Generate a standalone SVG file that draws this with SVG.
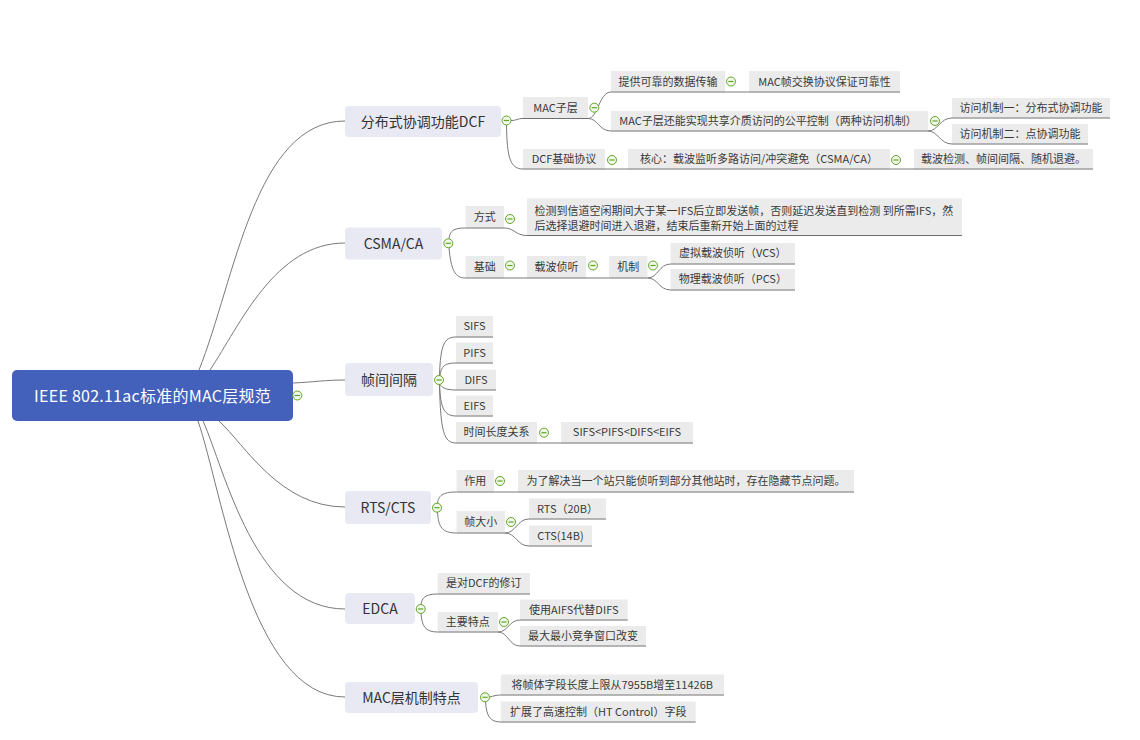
<svg xmlns="http://www.w3.org/2000/svg" xmlns:xlink="http://www.w3.org/1999/xlink" width="1140" height="740" viewBox="0 0 1140 740">
<style>
text{font-family:"Microsoft YaHei","Noto Sans CJK SC","Noto Sans",sans-serif;}
.root rect{fill:#4361BA;}
.root text{fill:#ffffff;font-size:16px;letter-spacing:0.25px;text-anchor:middle;}
.l1 rect{fill:#E8E9F3;}
.l1 text{fill:#333333;font-size:14px;text-anchor:middle;}
.l2 rect{fill:#EBEBEB;}
.l2 text{fill:#3a3a3a;font-size:11px;text-anchor:middle;}
.l2 text.left{text-anchor:start;}
.ul{stroke:#6e6e6e;stroke-width:1;fill:none;}
.cn path,.cn line{stroke:#7a7a7a;stroke-width:1;fill:none;}
.tg circle{fill:#F2F9EA;stroke:#5FA526;stroke-width:1;}
.tg line{stroke:#5FA526;stroke-width:1.2;}
</style>
<defs>
<g id="tg" class="tg"><circle cx="0" cy="0" r="4.5"/><line x1="-2.6" y1="0" x2="2.6" y2="0"/></g>
</defs>
<rect width="1140" height="740" fill="#ffffff"/>

<g id="connectors" class="cn">
<path d="M199,370 C235,280 255,121 345,121"/>
<path d="M210,370 C240,325 275,243 345,243"/>
<path d="M293,383 C315,382 325,380 345,380"/>
<path d="M219,421 C245,445 280,507 345,507"/>
<path d="M203,421 C225,470 255,609 345,609"/>
<path d="M198,421 C222,490 250,697 345,697"/>

<path d="M511,120.5 C517,120.5 517,118.5 523,118.5"/>
<path d="M506.5,125 C507,157 510,169 523,169"/>
<path d="M449,238.8 C450,231 453,228 465.5,228"/>
<path d="M449,247.8 C451,270 455,278 465.5,278"/>
<path d="M439.5,375.5 C440.5,345 444,337 456,337"/>
<path d="M440,375.7 C441,366 445,363 456,363"/>
<path d="M440,384.3 C441,387 445,390 456,390"/>
<path d="M439.5,384.5 C440.5,408 444,416 456,416"/>
<path d="M439.5,384.5 C440.5,432 444,443 456,443"/>
<path d="M437.5,503.2 C438.5,496 442,492 456.5,492"/>
<path d="M437.5,512.2 C438.5,527 442,533 456.5,533"/>
<path d="M421,604.5 C422,598 425,594 437.7,594"/>
<path d="M421,613.5 C422,626 425,632 437.7,632"/>
<path d="M489.5,697 C494,696 496,695 500.7,695"/>
<path d="M485.5,701.8 C486.5,716 490,722 500.7,722"/>

<path d="M588,118.5 C598,118.5 599,92 611,92"/>
<path d="M588,118.5 C598,118.5 599,131 611,131"/>
<path d="M928,131 C938,131 940,118 952,118"/>
<path d="M928,131 C938,131 940,144 952,144"/>
<path d="M504,228 C515,228 515,235.5 527,235.5"/>
<path d="M647.5,278 C658,278 659,264 670.6,264"/>
<path d="M647.5,278 C658,278 659,290 670.6,290"/>
<path d="M505,533 C516,533 517,519 529,519"/>
<path d="M505,533 C516,533 517,546 529,546"/>
<path d="M498,632 C508,632 509,620 520,620"/>
<path d="M498,632 C508,632 509,646 520,646"/>

<line x1="725" y1="92" x2="749" y2="92"/>
<line x1="605" y1="169" x2="628" y2="169"/>
<line x1="890" y1="169" x2="914" y2="169"/>
<line x1="504" y1="278" x2="527" y2="278"/>
<line x1="586" y1="278" x2="609" y2="278"/>
<line x1="537" y1="443" x2="561" y2="443"/>
<line x1="494" y1="492" x2="518" y2="492"/>
</g>

<g id="root" class="root">
<rect x="12" y="370" width="281" height="51" rx="5"/>
<text x="152.5" y="401.5">IEEE 802.11ac标准的MAC层规范</text>
<use xlink:href="#tg" x="297.3" y="395.5"/>
</g>

<g id="n-dcf" class="l1">
<rect x="345" y="106" width="156" height="31" rx="4"/>
<text x="423" y="126.5">分布式协调功能DCF</text>
<use xlink:href="#tg" x="506.5" y="120.5"/>
</g>
<g id="n-csma" class="l1">
<rect x="345" y="227.5" width="97" height="32" rx="4"/>
<text x="393.5" y="248.5">CSMA/CA</text>
<use xlink:href="#tg" x="448.3" y="243.3"/>
</g>
<g id="n-ifs" class="l1">
<rect x="345" y="363" width="88" height="33" rx="4"/>
<text x="389" y="384.5">帧间间隔</text>
<use xlink:href="#tg" x="439" y="380"/>
</g>
<g id="n-rts" class="l1">
<rect x="345" y="491" width="86" height="33" rx="4"/>
<text x="388" y="512.5">RTS/CTS</text>
<use xlink:href="#tg" x="437" y="507.7"/>
</g>
<g id="n-edca" class="l1">
<rect x="345" y="593" width="70" height="31" rx="4"/>
<text x="380" y="613.5">EDCA</text>
<use xlink:href="#tg" x="420.7" y="609"/>
</g>
<g id="n-mac" class="l1">
<rect x="345" y="682" width="133" height="31" rx="4"/>
<text x="411.5" y="702.5">MAC层机制特点</text>
<use xlink:href="#tg" x="485" y="697.3"/>
</g>

<g id="n-macsub" class="l2">
<rect x="523" y="97" width="65" height="21"/>
<line class="ul" x1="523" y1="118.5" x2="588" y2="118.5"/>
<text x="555.5" y="111.5">MAC子层</text>
<use xlink:href="#tg" x="594.3" y="107.7"/>
</g>
<g id="n-reliable" class="l2">
<rect x="611" y="71" width="114" height="20.5"/>
<line class="ul" x1="611" y1="92" x2="725" y2="92"/>
<text x="668" y="85.5">提供可靠的数据传输</text>
<use xlink:href="#tg" x="731" y="81.5"/>
</g>
<g id="n-macframe" class="l2">
<rect x="749" y="71" width="151" height="20.5"/>
<line class="ul" x1="749" y1="92" x2="900" y2="92"/>
<text x="824.5" y="85.5">MAC帧交换协议保证可靠性</text>
</g>
<g id="n-fair" class="l2">
<rect x="611" y="111" width="317" height="19.5"/>
<line class="ul" x1="611" y1="131" x2="928" y2="131"/>
<text x="768" y="124.8">MAC子层还能实现共享介质访问的公平控制（两种访问机制）</text>
<use xlink:href="#tg" x="935" y="121"/>
</g>
<g id="n-access1" class="l2">
<rect x="952" y="98" width="158" height="19.5"/>
<line class="ul" x1="952" y1="118" x2="1110" y2="118"/>
<text x="1031" y="111.8">访问机制一：分布式协调功能</text>
</g>
<g id="n-access2" class="l2">
<rect x="952" y="124" width="136" height="19.5"/>
<line class="ul" x1="952" y1="144" x2="1088" y2="144"/>
<text x="1020" y="137.8">访问机制二：点协调功能</text>
</g>
<g id="n-dcfbase" class="l2">
<rect x="523" y="149" width="82" height="19.5"/>
<line class="ul" x1="523" y1="169" x2="605" y2="169"/>
<text x="564" y="162.8">DCF基础协议</text>
<use xlink:href="#tg" x="612" y="160"/>
</g>
<g id="n-core" class="l2">
<rect x="628" y="149" width="262" height="19.5"/>
<line class="ul" x1="628" y1="169" x2="890" y2="169"/>
<text x="759" y="162.8">核心：载波监听多路访问/冲突避免（CSMA/CA）</text>
<use xlink:href="#tg" x="896" y="160"/>
</g>
<g id="n-detect" class="l2">
<rect x="914" y="149" width="179" height="19.5"/>
<line class="ul" x1="914" y1="169" x2="1093" y2="169"/>
<text x="1003.5" y="162.8">载波检测、帧间间隔、随机退避。</text>
</g>

<g id="n-way" class="l2">
<rect x="465.5" y="206" width="38.5" height="21.5"/>
<line class="ul" x1="465.5" y1="228" x2="504" y2="228"/>
<text x="484.7" y="220.8">方式</text>
<use xlink:href="#tg" x="510" y="219"/>
</g>
<g id="n-waydesc" class="l2">
<rect x="527" y="198.5" width="435" height="36.5"/>
<line class="ul" x1="527" y1="235.5" x2="962" y2="235.5"/>
<text class="left" x="534.6" y="214.5">检测到信道空闲期间大于某一IFS后立即发送帧，否则延迟发送直到检测 到所需IFS，然</text>
<text class="left" x="534.6" y="229.8">后选择退避时间进入退避，结束后重新开始上面的过程</text>
</g>
<g id="n-basis" class="l2">
<rect x="465.5" y="256" width="38.5" height="21.5"/>
<line class="ul" x1="465.5" y1="278" x2="504" y2="278"/>
<text x="484.7" y="270.8">基础</text>
<use xlink:href="#tg" x="510" y="265.5"/>
</g>
<g id="n-cs" class="l2">
<rect x="527" y="256" width="59" height="21.5"/>
<line class="ul" x1="527" y1="278" x2="586" y2="278"/>
<text x="556.5" y="270.8">载波侦听</text>
<use xlink:href="#tg" x="593" y="265.5"/>
</g>
<g id="n-mech" class="l2">
<rect x="609" y="256" width="38.5" height="21.5"/>
<line class="ul" x1="609" y1="278" x2="647.5" y2="278"/>
<text x="628.2" y="270.8">机制</text>
<use xlink:href="#tg" x="653" y="265.5"/>
</g>
<g id="n-vcs" class="l2">
<rect x="670.6" y="243" width="124.4" height="20.5"/>
<line class="ul" x1="670.6" y1="264" x2="795" y2="264"/>
<text x="732.8" y="257.3">虚拟载波侦听（VCS）</text>
</g>
<g id="n-pcs" class="l2">
<rect x="670.6" y="269" width="124.4" height="20.5"/>
<line class="ul" x1="670.6" y1="290" x2="795" y2="290"/>
<text x="732.8" y="283.3">物理载波侦听（PCS）</text>
</g>

<g id="n-sifs" class="l2">
<rect x="456" y="316" width="37" height="20.5"/>
<line class="ul" x1="456" y1="337" x2="493" y2="337"/>
<text x="474.5" y="330.3">SIFS</text>
</g>
<g id="n-pifs" class="l2">
<rect x="456" y="342.5" width="37" height="20"/>
<line class="ul" x1="456" y1="363" x2="493" y2="363"/>
<text x="474.5" y="356.5">PIFS</text>
</g>
<g id="n-difs" class="l2">
<rect x="456" y="369.5" width="40" height="20"/>
<line class="ul" x1="456" y1="390" x2="496" y2="390"/>
<text x="476" y="383.5">DIFS</text>
</g>
<g id="n-eifs" class="l2">
<rect x="456" y="395.5" width="37" height="20"/>
<line class="ul" x1="456" y1="416" x2="493" y2="416"/>
<text x="474.5" y="409.5">EIFS</text>
</g>
<g id="n-timelen" class="l2">
<rect x="456" y="422" width="81" height="20.5"/>
<line class="ul" x1="456" y1="443" x2="537" y2="443"/>
<text x="496.5" y="436.3">时间长度关系</text>
<use xlink:href="#tg" x="544" y="432.7"/>
</g>
<g id="n-order" class="l2">
<rect x="561" y="422" width="132" height="20.5"/>
<line class="ul" x1="561" y1="443" x2="693" y2="443"/>
<text x="627" y="436.3">SIFS&lt;PIFS&lt;DIFS&lt;EIFS</text>
</g>

<g id="n-role" class="l2">
<rect x="456.5" y="470" width="37.5" height="21.5"/>
<line class="ul" x1="456.5" y1="492" x2="494" y2="492"/>
<text x="475.2" y="484.8">作用</text>
<use xlink:href="#tg" x="500" y="481"/>
</g>
<g id="n-hidden" class="l2">
<rect x="518" y="470" width="336" height="21.5"/>
<line class="ul" x1="518" y1="492" x2="854" y2="492"/>
<text x="686" y="484.8">为了解决当一个站只能侦听到部分其他站时，存在隐藏节点问题。</text>
</g>
<g id="n-size" class="l2">
<rect x="456.5" y="511" width="48.5" height="21.5"/>
<line class="ul" x1="456.5" y1="533" x2="505" y2="533"/>
<text x="480.7" y="525.8">帧大小</text>
<use xlink:href="#tg" x="511" y="522"/>
</g>
<g id="n-rtssize" class="l2">
<rect x="529" y="498.5" width="77" height="20"/>
<line class="ul" x1="529" y1="519" x2="606" y2="519"/>
<text x="567.5" y="512.5">RTS（20B）</text>
</g>
<g id="n-ctssize" class="l2">
<rect x="529" y="525.5" width="63" height="20"/>
<line class="ul" x1="529" y1="546" x2="592" y2="546"/>
<text x="560.5" y="539.5">CTS(14B)</text>
</g>

<g id="n-revise" class="l2">
<rect x="437.7" y="573" width="92.3" height="20.5"/>
<line class="ul" x1="437.7" y1="594" x2="530" y2="594"/>
<text x="483.8" y="587.3">是对DCF的修订</text>
</g>
<g id="n-feature" class="l2">
<rect x="437.7" y="612" width="60.3" height="19.5"/>
<line class="ul" x1="437.7" y1="632" x2="498" y2="632"/>
<text x="467.8" y="625.8">主要特点</text>
<use xlink:href="#tg" x="504" y="622"/>
</g>
<g id="n-aifs" class="l2">
<rect x="520" y="599.5" width="107.7" height="20"/>
<line class="ul" x1="520" y1="620" x2="627.7" y2="620"/>
<text x="573.8" y="613.5">使用AIFS代替DIFS</text>
</g>
<g id="n-cw" class="l2">
<rect x="520" y="626" width="126" height="19.5"/>
<line class="ul" x1="520" y1="646" x2="646" y2="646"/>
<text x="583" y="639.8">最大最小竞争窗口改变</text>
</g>

<g id="n-framebody" class="l2">
<rect x="500.7" y="674.5" width="223.3" height="20"/>
<line class="ul" x1="500.7" y1="695" x2="724" y2="695"/>
<text x="612.3" y="688.5">将帧体字段长度上限从7955B增至11426B</text>
</g>
<g id="n-htc" class="l2">
<rect x="500.7" y="701.5" width="195" height="20"/>
<line class="ul" x1="500.7" y1="722" x2="695.7" y2="722"/>
<text x="598.2" y="715.5">扩展了高速控制（HT Control）字段</text>
</g>
</svg>
